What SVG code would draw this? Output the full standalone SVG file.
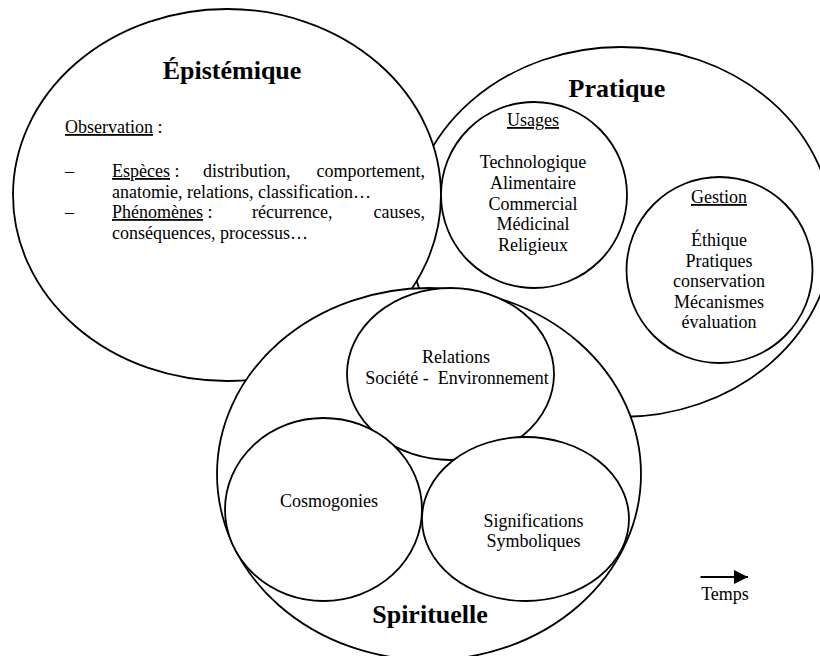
<svg xmlns="http://www.w3.org/2000/svg" width="820" height="656" viewBox="0 0 820 656">
<style>
  .shape { fill: #fff; stroke: #000; stroke-width: 1.8; }
  text { font-family: "Liberation Serif", "Times New Roman", serif; fill: #000; }
  .t { font-size: 18px; }
  .c { text-anchor: middle; }
  .h { font-size: 26px; font-weight: bold; text-anchor: middle; }
  .u { text-decoration: underline; }
</style>
<defs>
  <marker id="arrowhead" markerWidth="15" markerHeight="15" refX="14" refY="7" orient="auto" markerUnits="userSpaceOnUse">
    <polygon points="0,0 14,7 0,14" fill="#000"/>
  </marker>
</defs>
<rect width="820" height="656" fill="#fff"/>

<g id="pratique">
  <ellipse class="shape" cx="621" cy="232" rx="212" ry="185"/>
  <text class="h" x="617" y="97">Pratique</text>
</g>

<g id="epistemique">
  <ellipse class="shape" cx="227" cy="195" rx="214" ry="186"/>
  <text class="h" x="232" y="79">Épistémique</text>
  <text class="t" x="65" y="133"><tspan class="u">Observation</tspan> :</text>
  <text class="t" x="65" y="177">–</text>
  <text class="t" x="112" y="177"><tspan class="u">Espèces</tspan> :</text>
  <text class="t" x="203" y="177">distribution,</text>
  <text class="t" x="425" y="177" text-anchor="end">comportement,</text>
  <text class="t" x="112" y="198">anatomie, relations, classification…</text>
  <text class="t" x="65" y="218">–</text>
  <text class="t" x="112" y="218"><tspan class="u">Phénomènes</tspan> :</text>
  <text class="t" x="252" y="218">récurrence,</text>
  <text class="t" x="425" y="218" text-anchor="end">causes,</text>
  <text class="t" x="112" y="239">conséquences, processus…</text>
</g>

<g id="usages">
  <circle class="shape" cx="534" cy="195" r="93"/>
  <text class="t c u" x="533" y="126">Usages</text>
  <text class="t c" x="533" y="168">Technologique</text>
  <text class="t c" x="533" y="189">Alimentaire</text>
  <text class="t c" x="533" y="210">Commercial</text>
  <text class="t c" x="533" y="230">Médicinal</text>
  <text class="t c" x="533" y="251">Religieux</text>
</g>

<g id="gestion">
  <circle class="shape" cx="719.5" cy="270" r="93"/>
  <text class="t c u" x="719" y="203">Gestion</text>
  <text class="t c" x="719" y="246">Éthique</text>
  <text class="t c" x="719" y="266.5">Pratiques</text>
  <text class="t c" x="719" y="287">conservation</text>
  <text class="t c" x="719" y="307.5">Mécanismes</text>
  <text class="t c" x="719" y="328">évaluation</text>
</g>

<g id="spirituelle">
  <ellipse class="shape" cx="429" cy="474" rx="212" ry="186"/>
  <text class="h" x="430" y="623">Spirituelle</text>
</g>

<g id="relations">
  <ellipse class="shape" cx="450.5" cy="374" rx="103.5" ry="86"/>
  <text class="t c" x="456" y="363">Relations</text>
  <text class="t c" x="457" y="384" style="white-space:pre">Société -  Environnement</text>
</g>

<g id="cosmogonies">
  <ellipse class="shape" cx="323.5" cy="509.5" rx="98.5" ry="91.5"/>
  <text class="t c" x="329" y="507">Cosmogonies</text>
</g>

<g id="significations">
  <ellipse class="shape" cx="525.5" cy="519" rx="103.5" ry="82"/>
  <text class="t c" x="533.5" y="527">Significations</text>
  <text class="t c" x="533.5" y="547">Symboliques</text>
</g>

<g id="connectors">
  <line x1="700.5" y1="577" x2="748" y2="577" stroke="#000" stroke-width="2" marker-end="url(#arrowhead)"/>
</g>
<g id="temps">
  <text class="t c" x="725" y="600">Temps</text>
</g>
</svg>
